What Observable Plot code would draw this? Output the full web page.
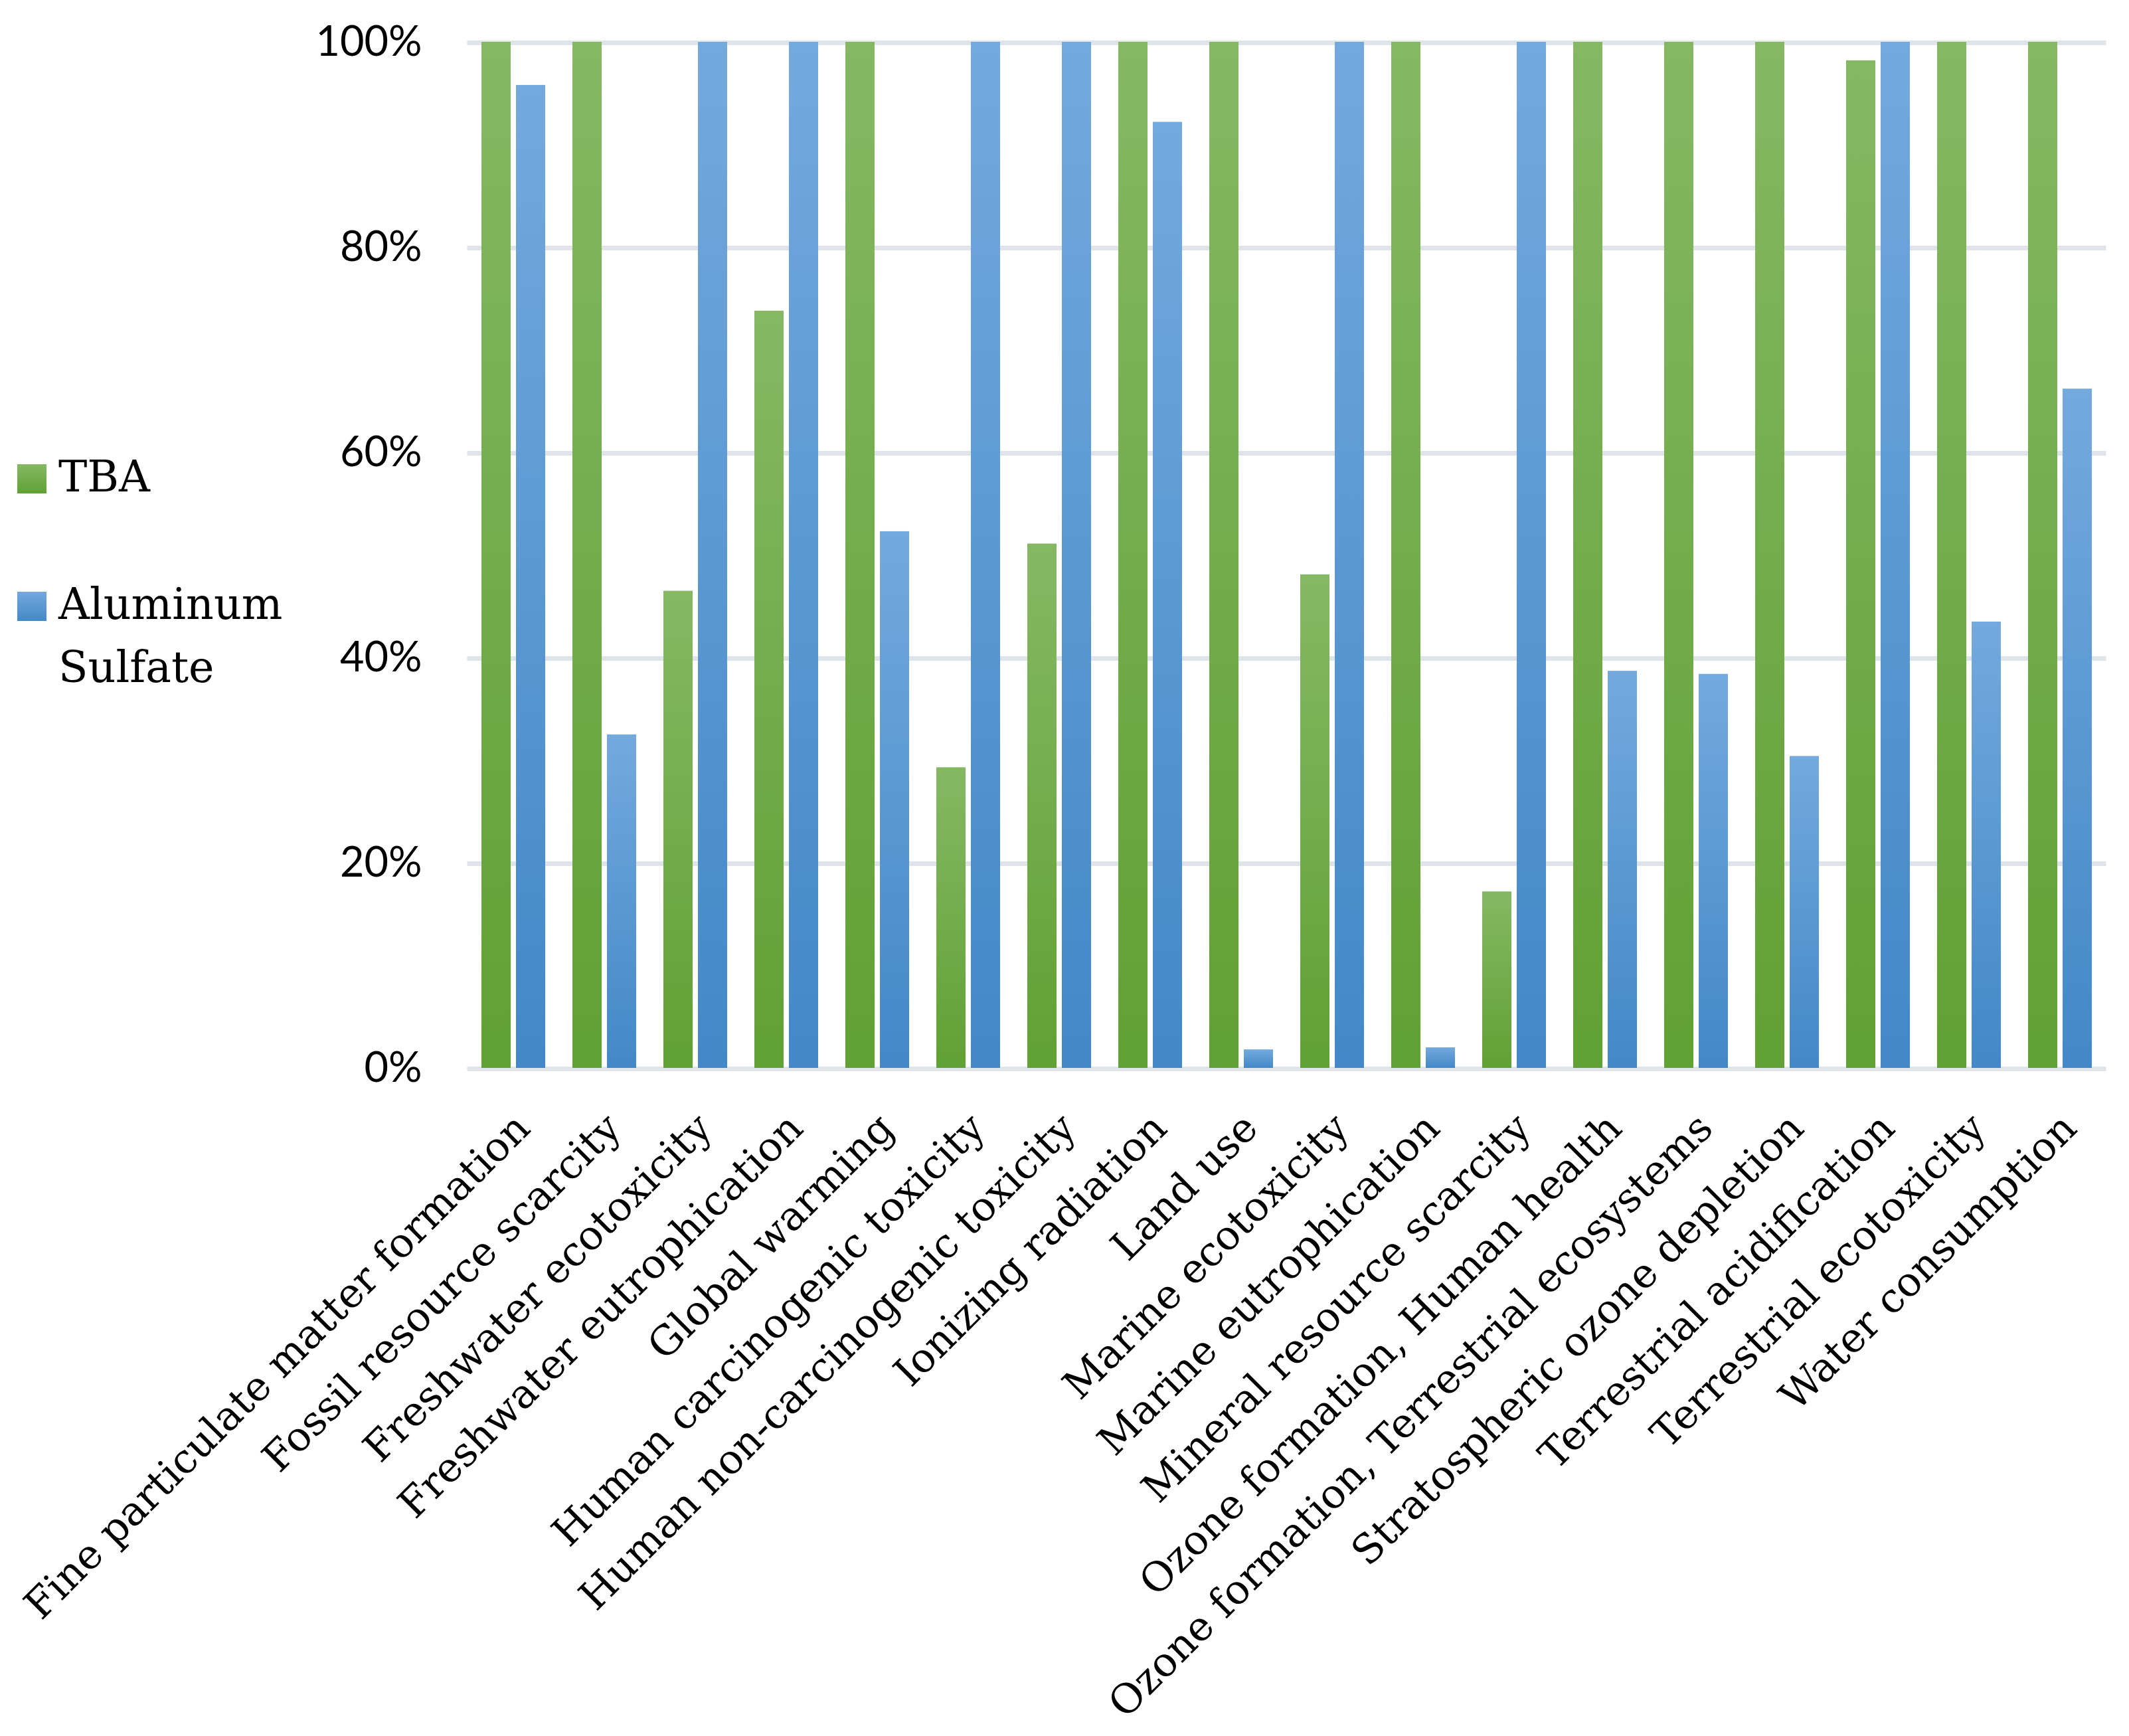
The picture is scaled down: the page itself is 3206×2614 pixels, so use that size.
<!DOCTYPE html>
<html>
<head>
<meta charset="utf-8">
<script src="https://cdn.jsdelivr.net/npm/d3@7"></script>
<script src="https://cdn.jsdelivr.net/npm/@observablehq/plot@0.6"></script>
<style>
  html, body { margin: 0; padding: 0; background: #fff; }
  #wrap { position: relative; width: 3206px; height: 2614px; }
  #legend { position: absolute; left: 0; top: 0; width: 450px; height: 1100px; }
  #chart { position: absolute; left: 0; top: 0; width: 3206px; height: 2614px; }
</style>
</head>
<body>
<svg width="0" height="0" style="position:absolute">
  <defs>
    <linearGradient id="gradGreen" x1="0" y1="0" x2="0" y2="1">
      <stop offset="0" stop-color="#86b864"/>
      <stop offset="1" stop-color="#60a133"/>
    </linearGradient>
    <linearGradient id="gradBlue" x1="0" y1="0" x2="0" y2="1">
      <stop offset="0" stop-color="#74a9dd"/>
      <stop offset="1" stop-color="#4288c8"/>
    </linearGradient>
  </defs>
</svg>
<div id="wrap">
  <div id="chart"></div>
  <div id="legend"></div>
</div>
<script>
const categories = [
  "Fine particulate matter formation",
  "Fossil resource scarcity",
  "Freshwater ecotoxicity",
  "Freshwater eutrophication",
  "Global warming",
  "Human carcinogenic toxicity",
  "Human non-carcinogenic toxicity",
  "Ionizing radiation",
  "Land use",
  "Marine ecotoxicity",
  "Marine eutrophication",
  "Mineral resource scarcity",
  "Ozone formation, Human health",
  "Ozone formation, Terrestrial ecosystems",
  "Stratospheric ozone depletion",
  "Terrestrial acidification",
  "Terrestrial ecotoxicity",
  "Water consumption"
];
const seriesNames = ["TBA", "Aluminum Sulfate"];
const tbaValues = [100, 100, 46.5, 73.8, 100, 29.3, 51.1, 100, 100, 48.1, 100, 17.2, 100, 100, 100, 98.2, 100, 100];
const alumValues = [95.8, 32.5, 100, 100, 52.3, 100, 100, 92.2, 1.8, 100, 2.0, 100, 38.7, 38.4, 30.4, 100, 43.5, 66.2];
const yTicks = [0, 20, 40, 60, 80, 100];

const rows = categories.flatMap((c, i) => [
  {category: c, series: seriesNames[0], value: tbaValues[i]},
  {category: c, series: seriesNames[1], value: alumValues[i]}
]);

const serif = "'DejaVu Serif', 'Liberation Serif', serif";

const chart = Plot.plot({
  width: 3206,
  height: 2614,
  marginLeft: 702,
  marginRight: 33,
  marginTop: 63,
  marginBottom: 1006,
  style: {background: "white", color: "black"},
  fx: {domain: categories, paddingInner: 0.30, paddingOuter: 0.15, label: null},
  x: {domain: seriesNames, paddingInner: 0.154, paddingOuter: 0, axis: null},
  y: {domain: [0, 100], label: null},
  marks: [
    Plot.ruleY(yTicks, {stroke: "#dfe3ea", strokeWidth: 7, dy: 1, insetLeft: -21.5, insetRight: -21.5}),
    Plot.barY(rows.filter(d => d.series === seriesNames[0]), {fx: "category", x: "series", y: "value", fill: "url(#gradGreen)"}),
    Plot.barY(rows.filter(d => d.series === seriesNames[1]), {fx: "category", x: "series", y: "value", fill: "url(#gradBlue)"}),
    Plot.axisY({ticks: yTicks, tickFormat: d => d + "%", tickSize: 0, tickPadding: 90, fontSize: 63, fontFamily: "Lato, 'Open Sans', sans-serif", label: null}),
    Plot.axisFx({anchor: "bottom", tickRotate: -45, tickSize: 0, tickPadding: 80, dx: 14, fontSize: 61, fontFamily: serif, label: null})
  ]
});
document.getElementById("chart").appendChild(chart);

// Legend
const leg = d3.select("#legend").append("svg").attr("width", 450).attr("height", 1100);
const legendItems = [
  {name: seriesNames[0], fill: "url(#gradGreen)", y: 699, lines: ["TBA"]},
  {name: seriesNames[1], fill: "url(#gradBlue)", y: 891, lines: ["Aluminum", "Sulfate"]}
];
for (const it of legendItems) {
  leg.append("rect").attr("x", 26).attr("y", it.y).attr("width", 44).attr("height", 44).attr("fill", it.fill);
  const t = leg.append("text").attr("x", 88).attr("y", it.y + 41)
    .attr("font-family", serif).attr("font-size", 65).attr("fill", "black");
  it.lines.forEach((ln, k) => t.append("tspan").attr("x", 88).attr("dy", k === 0 ? 0 : 95).text(ln));
}
</script>
</body>
</html>
